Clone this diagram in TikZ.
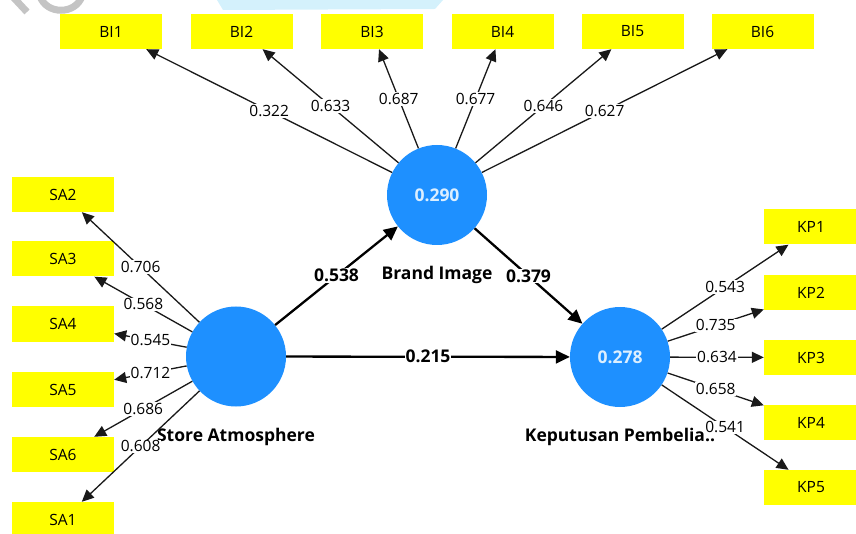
\documentclass[tikz,border=0pt]{standalone}
\usepackage{fontspec}
\setmainfont{Open Sans}
\usetikzlibrary{arrows.meta}
\definecolor{indyellow}{HTML}{FFFF00}
\definecolor{lvblue}{HTML}{1E90FF}
\definecolor{lvtext}{HTML}{DCEFFF}
\definecolor{wmblue}{HTML}{D4F1FC}
\definecolor{wmgray}{HTML}{C4C4C4}
\newcommand{\fsreg}{\fontsize{15.5}{18}\selectfont}
\newcommand{\fsbold}{\fontsize{17.5}{20}\selectfont\bfseries}
\tikzset{
  ind/.style={fill=indyellow, minimum width=102pt, minimum height=35pt, inner sep=0pt, font=\fsreg},
  lv/.style={circle, fill=lvblue, minimum size=100pt, inner sep=0pt, text=lvtext, font=\fsbold},
  lvname/.style={font=\fsbold, inner sep=0pt},
  loadarrow/.style={draw=black!90, line width=1.3pt, -{Triangle[length=12pt,width=11pt]}},
  patharrow/.style={draw=black, line width=2.3pt, -{Triangle[length=14pt,width=13pt]}},
  loadlbl/.style={midway, fill=white, inner sep=1pt, font=\fsreg},
  pathlbl/.style={midway, fill=white, inner sep=1pt, font=\fsbold}
}
\begin{document}
\begin{tikzpicture}[x=1pt,y=-1pt]
\useasboundingbox (0,0) rectangle (856,534);
\clip (0,0) rectangle (856,534);
% watermark remnants
\fill[wmblue] (217,0) -- (443,0) -- (435,9) -- (223,10) -- cycle;
\draw[wmgray, line width=7pt] (13,-3) -- (27,12);
\draw[wmgray, line width=7pt] (40,-4) .. controls (46,15) and (76,15) .. (82,-4);
% indicators
\node[ind] (BI1) at (111,31.5) {BI1};
\node[ind] (BI2) at (241.5,31.5) {BI2};
\node[ind] (BI3) at (372,31.5) {BI3};
\node[ind] (BI4) at (502.5,31.5) {BI4};
\node[ind] (BI5) at (632.5,31.5) {BI5};
\node[ind] (BI6) at (762.5,31.5) {BI6};
\node[ind] (SA2) at (63,194.5) {SA2};
\node[ind] (SA3) at (63,259) {SA3};
\node[ind] (SA4) at (63,324) {SA4};
\node[ind] (SA5) at (63,389.5) {SA5};
\node[ind] (SA6) at (63,454.5) {SA6};
\node[ind] (SA1) at (63,519.5) {SA1};
\node[ind] (KP1) at (815,227) {\hspace*{-8pt}KP1};
\node[ind] (KP2) at (815,292.5) {\hspace*{-8pt}KP2};
\node[ind] (KP3) at (815,357.5) {\hspace*{-8pt}KP3};
\node[ind] (KP4) at (815,422.5) {\hspace*{-8pt}KP4};
\node[ind] (KP5) at (815,487.5) {\hspace*{-8pt}KP5};
% latent variables
\node[lv] (BI) at (437,195) {0.290};
\node[lv] (SA) at (236,356.5) {};
\node[lv] (KP) at (620,357) {0.278};
\node[lvname] (BIn) at (437,275) {Brand Image};
\node[lvname] (SAn) at (236,437) {Store Atmosphere};
\node[lvname] (KPn) at (620,437) {Keputusan Pembelia..};
% structural paths
\draw[patharrow] (SA) -- (BI) node[pathlbl] {0.538};
\draw[patharrow] (BI) -- (KP) node[pathlbl] {0.379};
\draw[patharrow] (SA) -- (KP) node[pathlbl] {0.215};
% loadings
\draw[loadarrow] (BI) -- (BI1) node[loadlbl] {0.322};
\draw[loadarrow] (BI) -- (BI2) node[loadlbl] {0.633};
\draw[loadarrow] (BI) -- (BI3) node[loadlbl] {0.687};
\draw[loadarrow] (BI) -- (BI4) node[loadlbl] {0.677};
\draw[loadarrow] (BI) -- (BI5) node[loadlbl] {0.646};
\draw[loadarrow] (BI) -- (BI6) node[loadlbl] {0.627};
\draw[loadarrow] (SA) -- (SA2) node[loadlbl] {0.706};
\draw[loadarrow] (SA) -- (SA3) node[loadlbl] {0.568};
\draw[loadarrow] (SA) -- (SA4) node[loadlbl] {0.545};
\draw[loadarrow] (SA) -- (SA5) node[loadlbl] {0.712};
\draw[loadarrow] (SA) -- (SA6) node[loadlbl] {0.686};
\draw[loadarrow] (SA) -- (SA1) node[loadlbl] {0.608};
\draw[loadarrow] (KP) -- (KP1) node[loadlbl] {0.543};
\draw[loadarrow] (KP) -- (KP2) node[loadlbl] {0.735};
\draw[loadarrow] (KP) -- (KP3) node[loadlbl] {0.634};
\draw[loadarrow] (KP) -- (KP4) node[loadlbl] {0.658};
\draw[loadarrow] (KP) -- (KP5) node[loadlbl] {0.541};
\end{tikzpicture}
\end{document}
